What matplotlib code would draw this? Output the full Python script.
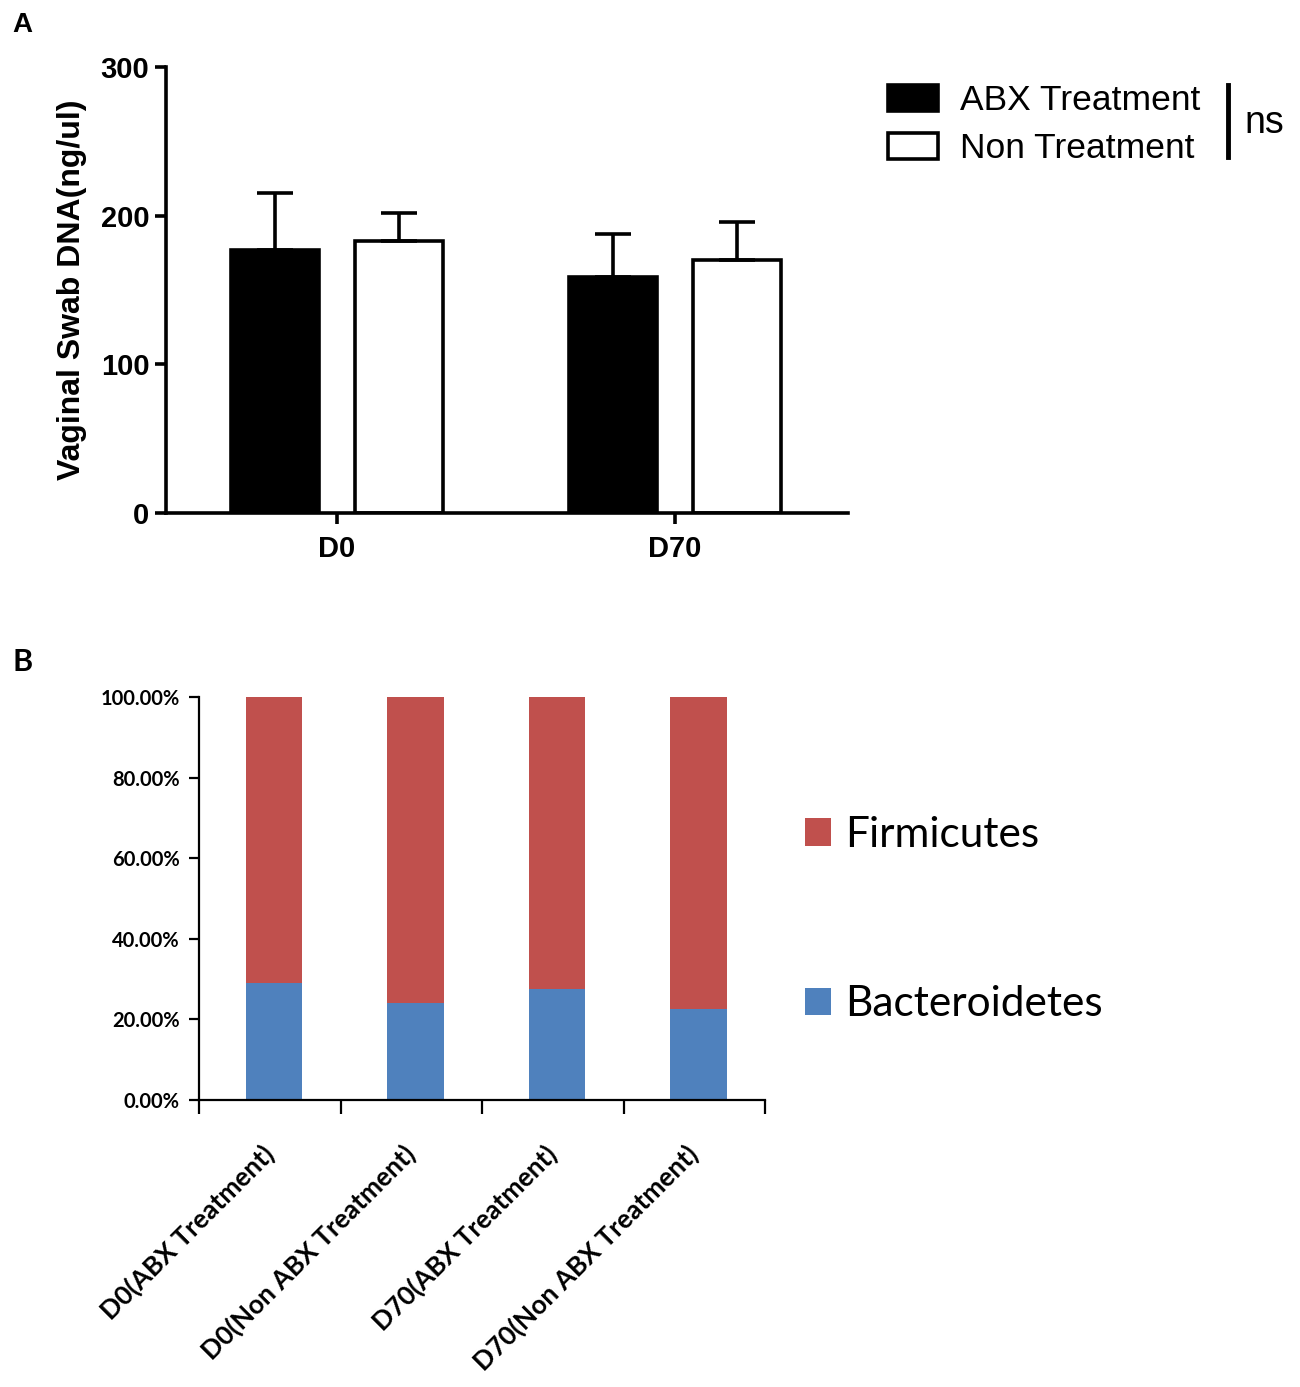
import matplotlib.pyplot as plt
from matplotlib.lines import Line2D
from matplotlib.patches import Patch
import numpy as np

# panel A data
timepoints = ['D0', 'D70']
abx_mean = [177, 159]
abx_err = [38, 29]
non_mean = [183, 170]
non_err = [19, 26]
a_yticks = [0, 100, 200, 300]

# panel B data
groups = ['D0(ABX Treatment)', 'D0(Non ABX Treatment)',
          'D70(ABX Treatment)', 'D70(Non ABX Treatment)']
bacteroidetes = [29.0, 24.1, 27.5, 22.6]
firmicutes = [100 - v for v in bacteroidetes]
b_yticks = [0, 20, 40, 60, 80, 100]

RED = '#C0504D'
BLUE = '#4F81BD'
ARIAL = 'Liberation Sans'
CALI = 'Lato'

fig = plt.figure(figsize=(13, 13.87), dpi=100)

# ---------- panel A ----------
axA = fig.add_axes([0.1277, 0.6301, 0.5246, 0.3216])
x = np.arange(len(timepoints))
w = 0.26
off = 0.183
lw = 2.6
axA.bar(x - off, abx_mean, w, color='black', edgecolor='black', linewidth=lw,
        yerr=[[0, 0], abx_err], error_kw=dict(capsize=13, elinewidth=lw, capthick=lw, ecolor='black'),
        label='ABX Treatment', zorder=2)
axA.bar(x + off, non_mean, w, color='white', edgecolor='black', linewidth=lw,
        yerr=[[0, 0], non_err], error_kw=dict(capsize=13, elinewidth=lw, capthick=lw, ecolor='black'),
        label='Non Treatment', zorder=2)
axA.set_xlim(-0.506, 1.512)
axA.set_ylim(0, 300)
axA.set_yticks(a_yticks)
axA.set_xticks(x)
axA.set_xticklabels(timepoints)
for s in ['top', 'right']:
    axA.spines[s].set_visible(False)
for s in ['left', 'bottom']:
    axA.spines[s].set_linewidth(2.6)
axA.tick_params(axis='both', direction='out', length=8, width=2.6, pad=4)
for lab in axA.get_yticklabels() + axA.get_xticklabels():
    lab.set_fontfamily(ARIAL)
    lab.set_fontweight('bold')
    lab.set_fontsize(21)
axA.tick_params(axis='x', pad=8)
axA.set_ylabel('Vaginal Swab DNA(ng/ul)', fontfamily=ARIAL, fontweight='bold', fontsize=23, labelpad=10)

fig.legend(handles=[Patch(facecolor='black', edgecolor='black', linewidth=2.6),
                    Patch(facecolor='white', edgecolor='black', linewidth=2.6)],
           labels=['ABX Treatment', 'Non Treatment'],
           loc='upper left', bbox_to_anchor=(0.672, 1 - 70 / 1387), frameon=False,
           prop=dict(family=ARIAL, size=25.5), handlelength=1.42, handleheight=0.75,
           handletextpad=0.62, labelspacing=0.42, borderaxespad=0)
fig.add_artist(Line2D([1228 / 1300, 1228 / 1300], [1 - 85 / 1387, 1 - 157 / 1387],
                      color='black', linewidth=3.5, transform=fig.transFigure))
fig.text(1244 / 1300, 1 - 123 / 1387, 'ns', fontfamily=ARIAL, fontsize=27, va='center', ha='left')
fig.text(12 / 1300, 1 - 25 / 1387, 'A', fontfamily=ARIAL, fontweight='bold', fontsize=20, va='center')

# ---------- panel B ----------
axB = fig.add_axes([0.1531, 0.2069, 0.4354, 0.2906])
xb = np.arange(len(groups))
axB.bar(xb + 0.03, bacteroidetes, 0.4, color=BLUE, label='Bacteroidetes', zorder=2)
axB.bar(xb + 0.03, firmicutes, 0.4, bottom=bacteroidetes, color=RED, label='Firmicutes', zorder=2)
axB.set_xlim(-0.5, 3.5)
axB.set_ylim(0, 100)
axB.set_yticks(b_yticks)
axB.set_yticklabels(['%.2f%%' % v for v in b_yticks])
axB.set_xticks(xb)
axB.set_xticklabels(groups, rotation=45, ha='right', va='center', rotation_mode='anchor')
axB.set_xticks(np.arange(-0.5, 4.0, 1.0), minor=True)
axB.tick_params(axis='x', which='major', length=0, pad=36)
axB.tick_params(axis='x', which='minor', length=10, width=1.6, direction='out')
axB.tick_params(axis='y', length=7, width=1.6, direction='out', pad=7)
for s in ['top', 'right']:
    axB.spines[s].set_visible(False)
for s in ['left', 'bottom']:
    axB.spines[s].set_linewidth(1.6)
for lab in axB.get_yticklabels():
    lab.set_fontfamily(CALI)
    lab.set_fontweight('bold')
    lab.set_fontsize(14.5)
for lab in axB.get_xticklabels():
    lab.set_fontfamily(CALI)
    lab.set_fontweight('bold')
    lab.set_fontsize(19)

hB, lB = axB.get_legend_handles_labels()
fig.legend(hB[::-1], lB[::-1], loc='upper left', bbox_to_anchor=(788 / 1300, 1 - 799 / 1387),
           frameon=False, prop=dict(family=CALI, size=30.5), handlelength=0.62, handleheight=0.62,
           handletextpad=0.33, labelspacing=3.1, borderaxespad=0)
fig.text(12 / 1300, 1 - 662 / 1387, 'B', fontfamily=CALI, fontweight='bold', fontsize=22, va='center')

fig.savefig('out.png', dpi=100)
